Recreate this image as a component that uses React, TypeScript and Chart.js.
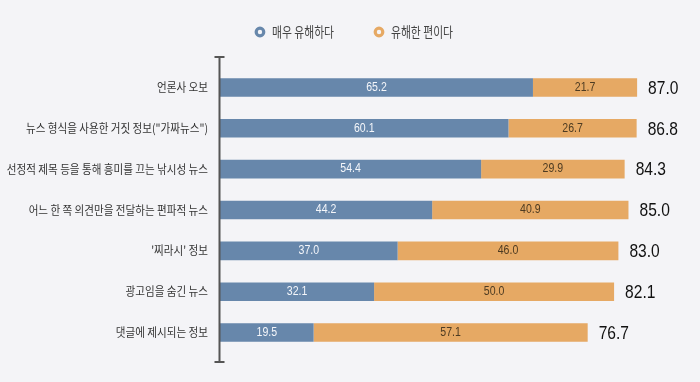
import React, { useEffect, useRef } from "react";
import { Chart, registerables } from "chart.js";

Chart.register(...registerables);

const categories = [
  "언론사 오보",
  "뉴스 형식을 사용한 거짓 정보(\"가짜뉴스\")",
  "선정적 제목 등을 통해 흥미를 끄는 낚시성 뉴스",
  "어느 한 쪽 의견만을 전달하는 편파적 뉴스",
  "'찌라시' 정보",
  "광고임을 숨긴 뉴스",
  "댓글에 제시되는 정보",
];
const seriesNames = ["매우 유해하다", "유해한 편이다"];
const veryHarmful = [65.2, 60.1, 54.4, 44.2, 37.0, 32.1, 19.5];
const somewhatHarmful = [21.7, 26.7, 29.9, 40.9, 46.0, 50.0, 57.1];
const totals = [87.0, 86.8, 84.3, 85.0, 83.0, 82.1, 76.7];
const xMin = 0;
const xMax = 100;

const BG = "#f4f4f7";
const BLUE = "#6787ab";
const ORANGE = "#e6a964";
const LABEL_COLORS = ["#f4f6fa", "#4d3b22"];
const KR = '"Noto Sans CJK KR", "Noto Sans", sans-serif';
const NUM = '"Liberation Sans", "Noto Sans", sans-serif';

function scaledText(ctx: any, text: string, x: number, y: number, sx: number) {
  ctx.save();
  ctx.translate(x, y);
  ctx.scale(sx, 1);
  ctx.fillText(text, 0, 0);
  ctx.restore();
}

const decor = {
  id: "decor",
  beforeDraw(chart: any) {
    const ctx = chart.ctx;
    ctx.save();
    ctx.fillStyle = BG;
    ctx.fillRect(0, 0, chart.width, chart.height);
    ctx.restore();
  },
  afterDatasetsDraw(chart: any) {
    const ctx = chart.ctx;
    const { left, top, bottom } = chart.chartArea;
    const yScale = chart.scales.y;
    ctx.save();

    // axis line with caps
    ctx.strokeStyle = "#555555";
    ctx.lineWidth = 2;
    ctx.beginPath();
    ctx.moveTo(left - 0.5, top - 10);
    ctx.lineTo(left - 0.5, bottom + 9);
    ctx.moveTo(left - 5.5, top - 10);
    ctx.lineTo(left + 4.5, top - 10);
    ctx.moveTo(left - 5.5, bottom + 9);
    ctx.lineTo(left + 4.5, bottom + 9);
    ctx.stroke();

    // category labels
    ctx.fillStyle = "#333333";
    ctx.font = `12px ${KR}`;
    ctx.textAlign = "right";
    ctx.textBaseline = "middle";
    (chart.data.labels as string[]).forEach((c, i) => {
      scaledText(ctx, c, left - 12, yScale.getPixelForValue(i), 0.88);
    });

    // value labels inside bars
    ctx.textAlign = "center";
    ctx.font = `12px ${NUM}`;
    chart.data.datasets.forEach((ds: any, di: number) => {
      const meta = chart.getDatasetMeta(di);
      ctx.fillStyle = LABEL_COLORS[di];
      meta.data.forEach((bar: any, i: number) => {
        const cx = (bar.x + bar.base) / 2;
        scaledText(ctx, Number(ds.data[i]).toFixed(1), cx, bar.y, 0.88);
      });
    });

    // totals
    const last = chart.getDatasetMeta(chart.data.datasets.length - 1);
    ctx.textAlign = "left";
    ctx.fillStyle = "#111111";
    ctx.font = `19px ${NUM}`;
    last.data.forEach((bar: any, i: number) => {
      scaledText(ctx, totals[i].toFixed(1), bar.x + 11, bar.y + 1, 0.82);
    });

    // legend
    const ly = 32;
    ctx.font = `13.5px ${KR}`;
    const sx = 0.8;
    const widths = chart.data.datasets.map((d: any) => ctx.measureText(d.label).width * sx);
    const ringR = 3.8;
    const ringToText = 12;
    const gap = 40;
    const total = widths.reduce((a: number, w: number) => a + 5 + ringToText + w, 0) + gap;
    let x = chart.width / 2 + 4 - total / 2;
    chart.data.datasets.forEach((d: any, di: number) => {
      const cx = x + 5;
      ctx.beginPath();
      ctx.arc(cx, ly, ringR, 0, Math.PI * 2);
      ctx.fillStyle = BG;
      ctx.fill();
      ctx.lineWidth = 3.2;
      ctx.strokeStyle = d.backgroundColor;
      ctx.stroke();
      ctx.fillStyle = "#444444";
      ctx.textAlign = "left";
      ctx.textBaseline = "middle";
      scaledText(ctx, d.label, cx + ringToText, ly, sx);
      x = cx + ringToText + widths[di] + gap;
    });

    ctx.restore();
  },
};

export default function App() {
  const ref = useRef<HTMLCanvasElement | null>(null);
  useEffect(() => {
    if (!ref.current) return;
    const chart = new Chart(ref.current, {
      type: "bar",
      data: {
        labels: categories,
        datasets: [
          {
            label: seriesNames[0],
            data: veryHarmful,
            backgroundColor: BLUE,
            borderWidth: 0,
            barPercentage: 1,
            categoryPercentage: 0.455,
          },
          {
            label: seriesNames[1],
            data: somewhatHarmful,
            backgroundColor: ORANGE,
            borderWidth: 0,
            barPercentage: 1,
            categoryPercentage: 0.455,
          },
        ],
      },
      options: {
        indexAxis: "y",
        animation: false,
        responsive: true,
        maintainAspectRatio: false,
        layout: { padding: { left: 220, right: 0, top: 67, bottom: 29 } },
        scales: {
          x: { stacked: true, min: xMin, max: xMax, display: false },
          y: { stacked: true, display: false },
        },
        plugins: {
          legend: { display: false },
          tooltip: { enabled: false },
        },
      },
      plugins: [decor],
    } as any);
    return () => chart.destroy();
  }, []);
  return (
    <div
      style={{
        position: "fixed",
        left: 0,
        top: 0,
        width: 700,
        height: 382,
        background: BG,
      }}
    >
      <canvas ref={ref} />
    </div>
  );
}
